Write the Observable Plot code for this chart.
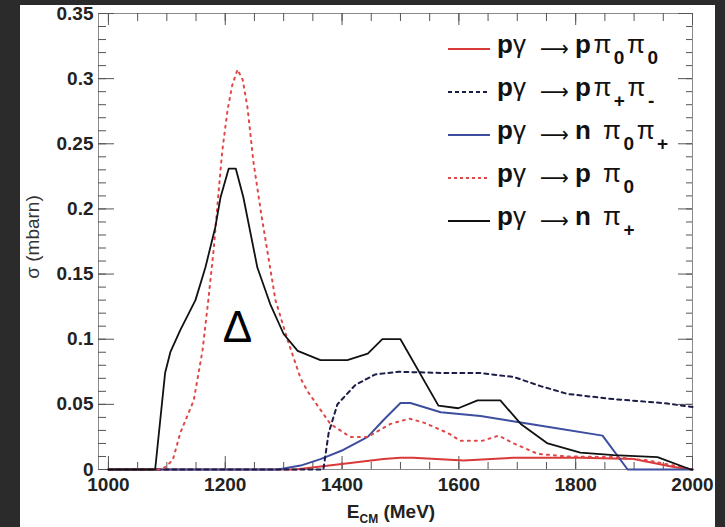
<!DOCTYPE html>
<html><head><meta charset="utf-8">
<script src="https://cdn.jsdelivr.net/npm/d3@7"></script>
<script src="https://cdn.jsdelivr.net/npm/@observablehq/plot@0.6"></script>
<style>
html,body{margin:0;padding:0;background:#2b2b2b;width:725px;height:527px;overflow:hidden}
#panel{position:absolute;left:20px;top:5px;width:695px;height:522px;background:#fff}
#holder{position:absolute;left:20px;top:0px;width:695px;height:527px}
svg{display:block}
</style></head><body><div id="panel"></div><div id="holder"></div>
<script>
// ---- tick labels ----
const xTicks = [1000, 1200, 1400, 1600, 1800, 2000];
const yTicks = [0, 0.05, 0.1, 0.15, 0.2, 0.25, 0.3, 0.35];

// ---- series: E (MeV) and sigma (mbarn) ----
// pγ → pπ0π0 (red solid)
const E_pp0p0 = [1000,1320,1414,1471,1500,1522,1608,1694,1808,1899,1968,2000];
const S_pp0p0 = [0,0,0.005,0.008,0.009,0.009,0.007,0.009,0.009,0.008,0.002,0];
// pγ → pπ+π- (navy dotted)
const E_pppm = [1000,1368,1377,1392,1423,1457,1497,1581,1637,1694,1740,1786,1865,1950,2000];
const S_pppm = [0,0,0.028,0.050,0.065,0.073,0.075,0.074,0.074,0.071,0.064,0.058,0.054,0.051,0.048];
// pγ → nπ0π+ (blue solid)
const E_np0pp = [1000,1290,1329,1363,1402,1444,1471,1500,1517,1569,1637,1706,1762,1846,1889,2000];
const S_np0pp = [0,0,0.003,0.008,0.015,0.025,0.038,0.051,0.051,0.044,0.041,0.036,0.032,0.026,0,0];
// pγ → pπ0 (red dotted)
const E_pp0 = [1000,1092,1110,1123,1146,1161,1171,1180,1188,1195,1204,1212,1221,1230,1238,1243,1248,1255,1262,1272,1286,1307,1329,1341,1380,1414,1444,1483,1515,1540,1581,1603,1640,1668,1694,1735,1786,1865,1923,1980,2000];
const S_pp0 = [0,0,0.007,0.028,0.053,0.091,0.130,0.168,0.210,0.245,0.276,0.295,0.307,0.299,0.278,0.258,0.237,0.216,0.195,0.168,0.130,0.099,0.070,0.060,0.035,0.025,0.025,0.035,0.039,0.036,0.028,0.022,0.022,0.026,0.020,0.012,0.010,0.0095,0.007,0.002,0];
// pγ → nπ+ (black solid)
const E_npp = [1000,1080,1097,1106,1123,1149,1166,1183,1192,1206,1218,1231,1255,1277,1300,1324,1363,1409,1444,1469,1500,1565,1599,1632,1671,1706,1752,1808,1865,1940,1997,2000];
const S_npp = [0,0,0.074,0.090,0.107,0.130,0.155,0.186,0.209,0.231,0.231,0.209,0.155,0.127,0.104,0.091,0.084,0.084,0.089,0.100,0.100,0.049,0.047,0.053,0.053,0.035,0.020,0.013,0.011,0.0095,0,0];

const annotations = [{E: 1221, S: 0.109, label: "Δ"}];

const colRed = "#d83a3a", colRedDot = "#e04848", colBlue = "#3d4e9e", colNavy = "#1c1c48", colBlack = "#111111";

const rows = (E, S) => E.map((e, i) => ({E: e, S: S[i]}));

const W = 695, H = 527, mL = 78, mR = 23, mT = 13, mB = 58;
const fH = H - mT - mB, fW = W - mL - mR;
const xMinor = d3.range(1000, 2001, 50);
const yMinor = d3.range(0, 36).map(i => i / 100);
const tickCol = "#555";

const chart = Plot.plot({
  width: W, height: H,
  marginLeft: mL, marginRight: mR, marginTop: mT, marginBottom: mB,
  style: {background: "transparent", fontFamily: "'Liberation Sans', Arial, Helvetica, sans-serif", fontSize: "19px", fontWeight: "bold", color: "#222", overflow: "visible"},
  x: {domain: [983, 2000], ticks: xTicks, tickSize: 0, tickPadding: 8, label: null, tickFormat: d => String(d)},
  y: {domain: [0, 0.35], ticks: yTicks, tickSize: 0, tickPadding: 5, label: null, tickFormat: d => String(d)},
  marks: [
    Plot.frame({stroke: "#8a8a8a"}),
    Plot.tickX(xMinor, {x: d => d, insetTop: fH - 7, stroke: tickCol}),
    Plot.tickX(xTicks, {x: d => d, insetTop: fH - 13, stroke: tickCol}),
    Plot.tickX(xMinor, {x: d => d, insetBottom: fH - 8, stroke: tickCol}),
    Plot.tickX(xTicks, {x: d => d, insetBottom: fH - 12, stroke: tickCol}),
    Plot.tickY(yMinor, {y: d => d, insetRight: fW - 8, stroke: tickCol}),
    Plot.tickY(yTicks, {y: d => d, insetRight: fW - 16, stroke: tickCol}),
    Plot.tickY(yMinor, {y: d => d, insetLeft: fW - 6, stroke: tickCol}),
    Plot.tickY(yTicks, {y: d => d, insetLeft: fW - 14, stroke: tickCol}),
    Plot.line(rows(E_pp0p0, S_pp0p0), {x: "E", y: "S", stroke: colRed, strokeWidth: 2}),
    Plot.line(rows(E_np0pp, S_np0pp), {x: "E", y: "S", stroke: colBlue, strokeWidth: 2}),
    Plot.line(rows(E_pppm, S_pppm), {x: "E", y: "S", stroke: colNavy, strokeWidth: 2, strokeDasharray: "4,4"}),
    Plot.line(rows(E_pp0, S_pp0), {x: "E", y: "S", stroke: colRedDot, strokeWidth: 2, strokeDasharray: "2,5"}),
    Plot.line(rows(E_npp, S_npp), {x: "E", y: "S", stroke: colBlack, strokeWidth: 1.8}),
    Plot.text(annotations, {x: "E", y: "S", text: "label", fontSize: 44, fontWeight: "normal", fill: "#000"})
  ]
});
document.getElementById("holder").appendChild(chart);

const svg = d3.select(chart);
const FF = "'Liberation Sans', Arial, Helvetica, sans-serif";

// y-axis title
svg.append("text")
  .attr("transform", "translate(12,237) rotate(-90)")
  .attr("text-anchor", "middle").attr("dy", "0.35em")
  .attr("font-family", FF).attr("font-size", 19).attr("font-weight", "normal").attr("fill", "#333")
  .text("σ (mbarn)");

// x-axis title
const xt = svg.append("text").attr("x", 371).attr("y", 518).attr("text-anchor", "middle")
  .attr("font-family", FF).attr("font-size", 19).attr("font-weight", "bold").attr("fill", "#222");
xt.append("tspan").text("E");
xt.append("tspan").attr("font-size", 12).attr("dy", 5).text("CM");
xt.append("tspan").attr("dy", -5).text(" (MeV)");

// legend
const legendRows = [
  {y: 53, stroke: colRed, dash: null, rest: [["p", "b"], ["π"], ["0", "s"], ["π"], ["0", "s"]]},
  {y: 96, stroke: colNavy, dash: "4,3", rest: [["p", "b"], ["π"], ["+", "s"], ["π"], ["-", "s"]]},
  {y: 139, stroke: colBlue, dash: null, rest: [["n ", "b"], ["π"], ["0", "s"], ["π"], ["+", "s"]]},
  {y: 182, stroke: colRedDot, dash: "3,3", rest: [["p ", "b"], ["π"], ["0", "s"]]},
  {y: 225, stroke: colBlack, dash: null, rest: [["n ", "b"], ["π"], ["+", "s"]]}
];
for (const r of legendRows) {
  svg.append("line").attr("x1", 428).attr("x2", 470).attr("y1", r.y - 4).attr("y2", r.y - 4)
    .attr("stroke", r.stroke).attr("stroke-width", 2).attr("stroke-dasharray", r.dash);
  const a = svg.append("text").attr("x", 477).attr("y", r.y).attr("text-anchor", "start")
    .attr("font-family", FF).attr("font-size", 26).attr("fill", "#111").attr("font-weight", "normal");
  a.append("tspan").attr("font-weight", "bold").text("p");
  a.append("tspan").text("γ");
  svg.append("text").attr("x", 520).attr("y", r.y + 3).attr("text-anchor", "start")
    .attr("font-family", "'DejaVu Sans', sans-serif").attr("font-size", 22).attr("font-weight", "normal").attr("fill", "#111")
    .attr("textLength", 29).attr("lengthAdjust", "spacingAndGlyphs")
    .text("⟶");
  const b = svg.append("text").attr("x", 555).attr("y", r.y).attr("text-anchor", "start")
    .attr("font-family", FF).attr("font-size", 26).attr("fill", "#111").attr("font-weight", "normal")
    .attr("letter-spacing", 2.5);
  let down = false;
  for (const [s, k] of r.rest) {
    const sp = b.append("tspan");
    if (k === "s") { sp.attr("font-size", 19).attr("font-weight", "bold").attr("dy", 11); down = true; }
    else {
      if (down) { sp.attr("dy", -11); down = false; }
      if (k === "b") sp.attr("font-weight", "bold");
    }
    sp.text(s);
  }
}
</script></body></html>
